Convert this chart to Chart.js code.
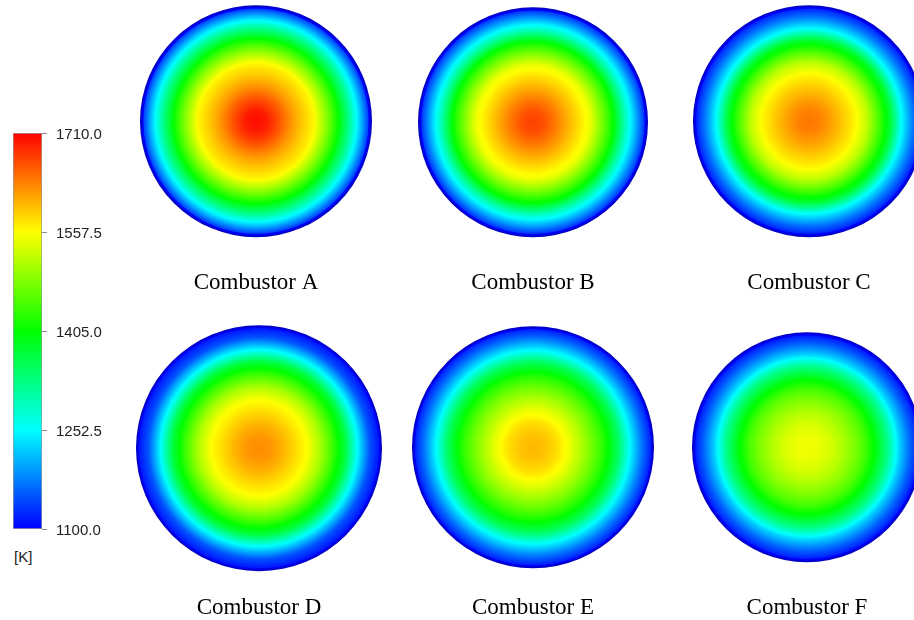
<!DOCTYPE html>
<html>
<head>
<meta charset="utf-8">
<script src="https://cdn.jsdelivr.net/npm/chart.js@4/dist/chart.umd.min.js"></script>
<style>
  html, body { margin: 0; padding: 0; background: #fff; overflow: hidden; width: 914px; height: 620px; }
  .panel { position: absolute; }
  .panel canvas { display: block; }
  #unit { position: absolute; left: 14px; top: 547px; font: 15px 'Liberation Sans', Arial, sans-serif; color: #222; line-height: 20px; }
</style>
</head>
<body>
<div id="unit"></div>
<script>
// Outlet cross-sections: temperature [K] along the radius, r/R = 0 … 1
const combustorNames = ['Combustor A', 'Combustor B', 'Combustor C', 'Combustor D', 'Combustor E', 'Combustor F'];
const radialPositions = [0, 0.1, 0.2, 0.3, 0.4, 0.5, 0.6, 0.7, 0.8, 0.9, 1.0];
const tempA = [1705, 1692, 1660, 1622, 1590, 1562, 1492, 1415, 1322, 1218, 1100];
const tempB = [1672, 1662, 1636, 1606, 1576, 1545, 1478, 1405, 1295, 1200, 1100];
const tempC = [1640, 1632, 1612, 1588, 1562, 1520, 1450, 1375, 1252, 1170, 1100];
const tempD = [1626, 1620, 1602, 1578, 1554, 1505, 1440, 1370, 1252, 1150, 1100];
const tempE = [1600, 1594, 1578, 1548, 1510, 1468, 1418, 1352, 1252, 1170, 1100];
const tempF = [1550, 1546, 1534, 1512, 1484, 1448, 1395, 1325, 1230, 1158, 1100];
const colorbarTicks = [1100, 1252.5, 1405, 1557.5, 1710];
const unitLabel = '[K]';

const profiles = [tempA, tempB, tempC, tempD, tempE, tempF];

// where each cross-section sits on the page (centre, radius, caption centre)
const panels = [
  { cx: 256, cy: 121, r: 116, labelY: 283 },
  { cx: 533, cy: 122, r: 115, labelY: 283 },
  { cx: 809, cy: 121, r: 116, labelY: 283 },
  { cx: 259, cy: 448, r: 123, labelY: 608 },
  { cx: 533, cy: 447, r: 121, labelY: 608 },
  { cx: 807, cy: 447, r: 115, labelY: 608 }
];

const T_MIN = colorbarTicks[0];
const T_MAX = colorbarTicks[colorbarTicks.length - 1];
// rainbow colour map: blue, cyan, green, yellow, red
const RAINBOW = [[0, 0, 255], [0, 255, 255], [0, 255, 0], [255, 255, 0], [255, 0, 0]];
const RIM_SHADE = 'rgb(0,0,185)';
const RIM_PX = 3;

function tempColor(t) {
  let f = (t - T_MIN) / (T_MAX - T_MIN);
  f = Math.min(1, Math.max(0, f));
  const s = f * (RAINBOW.length - 1);
  const i = Math.min(Math.floor(s), RAINBOW.length - 2);
  const u = s - i;
  const a = RAINBOW[i], b = RAINBOW[i + 1];
  const c = [0, 1, 2].map(k => Math.round(a[k] + (b[k] - a[k]) * u));
  return 'rgb(' + c.join(',') + ')';
}

function radialFill(ctx, x, y, r, temps) {
  const g = ctx.createRadialGradient(x, y, 0, x, y, r);
  const steps = 12;
  const rimStart = 1 - RIM_PX / r;
  for (let k = 0; k < radialPositions.length - 1; k++) {
    for (let s = 0; s < steps; s++) {
      const u = s / steps;
      const pos = radialPositions[k] + (radialPositions[k + 1] - radialPositions[k]) * u;
      if (pos >= rimStart) continue;
      const t = temps[k] + (temps[k + 1] - temps[k]) * u;
      g.addColorStop(pos, tempColor(t));
    }
  }
  // slightly shaded wall edge
  g.addColorStop(rimStart, tempColor(temps[temps.length - 1]));
  g.addColorStop(1, RIM_SHADE);
  return g;
}

document.getElementById('unit').textContent = unitLabel;

const TITLE_SIZE = 23;
const TITLE_LH = 1.2;

profiles.forEach((temps, i) => {
  const p = panels[i];
  const padTop = Math.round(p.labelY - (p.cy + p.r) - TITLE_SIZE * TITLE_LH / 2);
  const padBottom = 4;
  const h = 2 * p.r + padTop + padBottom + Math.ceil(TITLE_SIZE * TITLE_LH);
  const div = document.createElement('div');
  div.className = 'panel';
  div.style.left = (p.cx - p.r) + 'px';
  div.style.top = (p.cy - p.r) + 'px';
  const cv = document.createElement('canvas');
  cv.width = 2 * p.r;
  cv.height = h;
  div.appendChild(cv);
  document.body.appendChild(div);

  new Chart(cv, {
    type: 'pie',
    data: {
      labels: [combustorNames[i]],
      datasets: [{
        data: [1],
        borderWidth: 0,
        backgroundColor(c) {
          const a = c.chart.chartArea;
          if (!a) return tempColor(temps[0]);
          const x = (a.left + a.right) / 2;
          const y = (a.top + a.bottom) / 2;
          const r = Math.min(a.width, a.height) / 2;
          return radialFill(c.chart.ctx, x, y, r, temps);
        }
      }]
    },
    options: {
      responsive: false,
      animation: false,
      events: [],
      layout: { padding: 0 },
      plugins: {
        legend: { display: false },
        tooltip: { enabled: false },
        title: {
          display: true,
          text: combustorNames[i],
          position: 'bottom',
          color: '#000',
          font: { family: "'Liberation Serif', 'Times New Roman', serif", size: TITLE_SIZE, weight: 'normal', lineHeight: TITLE_LH },
          padding: { top: padTop, bottom: padBottom }
        }
      }
    }
  });
});

// colour bar
(function () {
  const div = document.createElement('div');
  div.className = 'panel';
  div.style.left = '0px';
  div.style.top = '113px';
  const cv = document.createElement('canvas');
  cv.width = 112;
  cv.height = 436;
  div.appendChild(cv);
  document.body.appendChild(div);

  new Chart(cv, {
    type: 'bar',
    data: {
      labels: [unitLabel],
      datasets: [{
        data: [[T_MIN, T_MAX]],
        backgroundColor(c) {
          const ch = c.chart;
          const ys = ch.scales.y;
          if (!ys || !ch.chartArea) return tempColor(T_MIN);
          const g = ch.ctx.createLinearGradient(0, ys.getPixelForValue(T_MIN), 0, ys.getPixelForValue(T_MAX));
          colorbarTicks.forEach(v => g.addColorStop((v - T_MIN) / (T_MAX - T_MIN), tempColor(v)));
          return g;
        },
        borderColor: '#9a9a9a',
        borderWidth: 1,
        borderSkipped: false,
        barPercentage: 1,
        categoryPercentage: 1
      }]
    },
    options: {
      responsive: false,
      animation: false,
      events: [],
      layout: { padding: { left: 13, top: 20, bottom: 20, right: 0 } },
      plugins: { legend: { display: false }, tooltip: { enabled: false } },
      scales: {
        x: { display: false },
        y: {
          position: 'right',
          min: T_MIN,
          max: T_MAX,
          afterBuildTicks(s) { s.ticks = colorbarTicks.map(v => ({ value: v })); },
          afterFit(s) { s.width = 70; },
          border: { display: false },
          grid: { drawOnChartArea: false, drawTicks: true, tickLength: 5, color: '#8c8c8c' },
          ticks: {
            padding: 9,
            labelOffset: 2,
            color: '#222',
            font: { family: "'Liberation Sans', Arial, sans-serif", size: 15 },
            callback: v => Number(v).toFixed(1)
          }
        }
      }
    }
  });
})();
</script>
</body>
</html>
